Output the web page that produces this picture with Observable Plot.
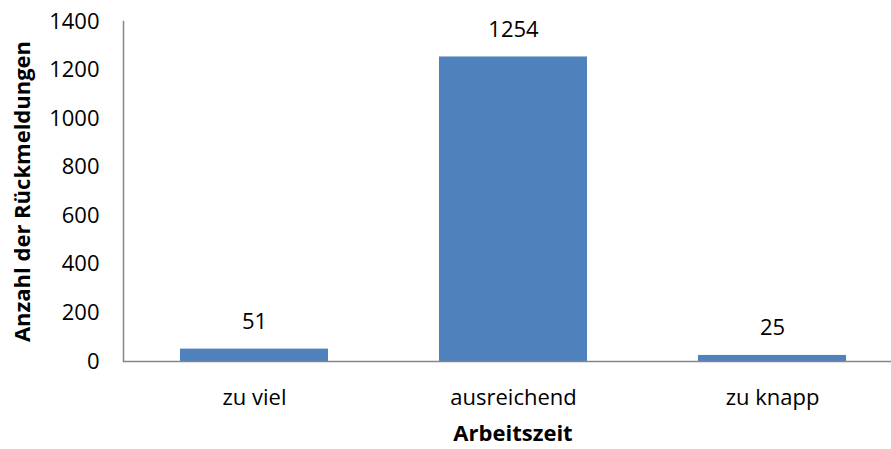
<!DOCTYPE html>
<html>
<head>
<meta charset="utf-8">
<script src="https://cdn.jsdelivr.net/npm/d3@7"></script>
<script src="https://cdn.jsdelivr.net/npm/@observablehq/plot@0.6"></script>
<style>
  html, body { margin: 0; padding: 0; background: #fff; }
  #chart svg { display: block; overflow: visible; }
</style>
</head>
<body>
<div id="chart"></div>
<script>
const categories = ["zu viel", "ausreichend", "zu knapp"];
const values = [51, 1254, 25];
const yTicks = [0, 200, 400, 600, 800, 1000, 1200, 1400];
const xTitle = "Arbeitszeit";
const yTitle = "Anzahl der Rückmeldungen";

const data = categories.map((c, i) => ({category: c, value: values[i]}));
const font = "'Open Sans', sans-serif";

const chart = Plot.plot({
  width: 891,
  height: 449,
  marginLeft: 123,
  marginRight: -11,
  marginTop: 21,
  marginBottom: 88,
  style: {fontFamily: font, fontSize: "22px", color: "#000", background: "#fff"},
  x: {domain: categories, paddingInner: 0.43, paddingOuter: 0.215, label: null},
  y: {domain: [0, 1400], label: null},
  marks: [
    Plot.barY(data, {x: "category", y: "value", fill: "#4F81BD"}),
    Plot.ruleY([0], {stroke: "#868686", strokeWidth: 1.5}),
    Plot.frame({anchor: "left", stroke: "#868686", strokeWidth: 1.5}),
    Plot.axisY({ticks: yTicks, tickFormat: d => String(d), tickSize: 0, tickPadding: 24, label: null, fontSize: 22}),
    Plot.axisX({tickSize: 0, tickPadding: 28, label: null, fontSize: 22}),
    Plot.text(data, {x: "category", y: "value", text: d => String(d.value), dy: -27, fontSize: 22, fill: "#000"}),
    Plot.text([yTitle], {frameAnchor: "left", dx: -101, rotate: -90, textAnchor: "middle", text: d => d, fontWeight: "bold", fontSize: 22, fill: "#000"}),
    Plot.text([xTitle], {frameAnchor: "bottom", dy: 79, textAnchor: "middle", text: d => d, fontWeight: "bold", fontSize: 22, fill: "#000"})
  ]
});
document.getElementById("chart").appendChild(chart);
</script>
</body>
</html>
